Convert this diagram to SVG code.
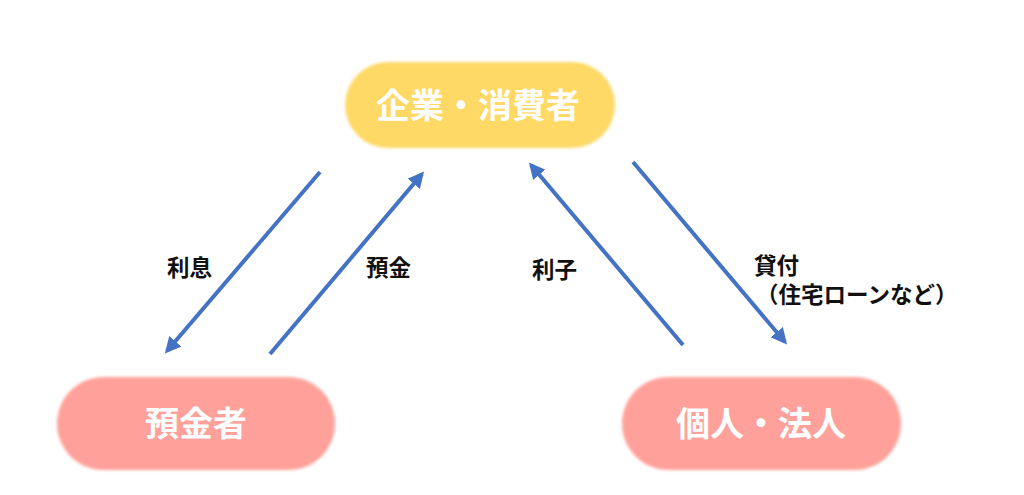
<svg xmlns="http://www.w3.org/2000/svg" width="1024" height="495" viewBox="0 0 1024 495">
  <style>
    .node-text { font-family: "Noto Sans CJK JP", "Noto Sans", sans-serif; font-weight: 700; font-size: 34px; fill: #ffffff; text-anchor: middle; }
    .label { font-family: "Noto Sans CJK JP", "Noto Sans", sans-serif; font-weight: 700; font-size: 22.5px; fill: #111111; }
    .conn { stroke: #4472C4; stroke-width: 4; fill: none; marker-end: url(#arrow); }
  </style>
  <defs>
    <filter id="soft" x="-10%" y="-20%" width="120%" height="140%">
      <feGaussianBlur stdDeviation="1.6"/>
    </filter>
    <marker id="arrow" viewBox="0 0 10 10" refX="8" refY="5" markerWidth="4" markerHeight="4" orient="auto" markerUnits="strokeWidth">
      <path d="M0,0 L10,5 L0,10 z" fill="#4472C4"/>
    </marker>
  </defs>
  <rect width="1024" height="495" fill="#ffffff"/>

  <g id="node-top">
    <rect x="345" y="62" width="270" height="86" rx="43" fill="#FFD966" filter="url(#soft)"/>
    <text class="node-text" x="478" y="118">企業・消費者</text>
  </g>
  <g id="node-depositor">
    <rect x="57" y="377" width="278" height="93" rx="46.5" fill="#FFA19A" filter="url(#soft)"/>
    <text class="node-text" x="196" y="436">預金者</text>
  </g>
  <g id="node-borrower">
    <rect x="622" y="377" width="279" height="93" rx="46.5" fill="#FFA19A" filter="url(#soft)"/>
    <text class="node-text" x="761" y="436">個人・法人</text>
  </g>

  <g id="connectors">
    <line class="conn" x1="320" y1="172" x2="167" y2="351"/>
    <line class="conn" x1="270" y1="354" x2="422" y2="174"/>
    <line class="conn" x1="683" y1="345" x2="531" y2="165"/>
    <line class="conn" x1="633" y1="162" x2="785" y2="342"/>
  </g>

  <g id="labels">
    <text class="label" x="167" y="276">利息</text>
    <text class="label" x="366" y="276">預金</text>
    <text class="label" x="532" y="278">利子</text>
    <text class="label" x="754" y="274">貸付</text>
    <text class="label" x="756" y="303">（住宅ローンなど）</text>
  </g>
</svg>
